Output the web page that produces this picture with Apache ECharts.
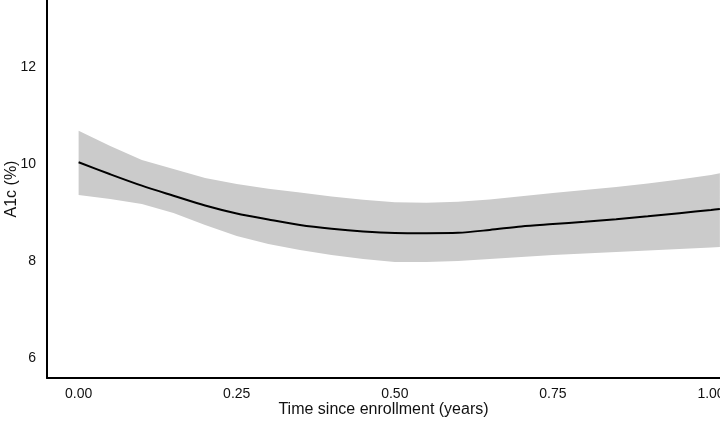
<!DOCTYPE html>
<html>
<head>
<meta charset="utf-8">
<script src="https://cdn.jsdelivr.net/npm/echarts@6/dist/echarts.min.js"></script>
<style>html,body{margin:0;padding:0;background:#fff}#c{width:720px;height:424px}</style>
</head>
<body>
<div id="c"></div>
<script>
const time = [0, 0.05, 0.10, 0.15, 0.20, 0.25, 0.30, 0.35, 0.40, 0.45, 0.50, 0.55, 0.60, 0.65, 0.70, 0.75, 0.80, 0.85, 0.90, 0.95, 1.00, 1.014];
const estimate = [10.035, 9.788, 9.553, 9.346, 9.144, 8.979, 8.856, 8.742, 8.664, 8.608, 8.577, 8.573, 8.581, 8.640, 8.713, 8.761, 8.808, 8.860, 8.920, 8.986, 9.052, 9.072];
const upper = [10.687, 10.371, 10.082, 9.897, 9.711, 9.588, 9.490, 9.410, 9.330, 9.260, 9.210, 9.200, 9.220, 9.270, 9.335, 9.400, 9.464, 9.526, 9.598, 9.680, 9.773, 9.810];
const lower = [9.361, 9.278, 9.175, 8.990, 8.742, 8.515, 8.351, 8.227, 8.124, 8.041, 7.979, 7.979, 8.000, 8.041, 8.082, 8.124, 8.155, 8.186, 8.216, 8.247, 8.278, 8.290];
const xTicks = [0, 0.25, 0.5, 0.75, 1.0];
const yTicks = [6, 8, 10, 12];

const chart = echarts.init(document.getElementById('c'), null, {renderer: 'canvas'});
const font = 'Liberation Sans, Arial, sans-serif';
const bandData = time.map((t, i) => [t, lower[i], upper[i]]);
chart.setOption({
  animation: false,
  backgroundColor: '#fff',
  grid: {left: 47, right: 0, top: 0, bottom: 46, outerBoundsMode: 'none', containLabel: false},
  xAxis: {
    type: 'value', min: -0.05, max: 1.0142,
    name: 'Time since enrollment (years)', nameLocation: 'middle', nameGap: 24, nameMoveOverlap: false,
    nameTextStyle: {fontSize: 16, color: '#111', fontFamily: font},
    axisLine: {show: true, onZero: false, lineStyle: {color: '#000', width: 2}},
    axisTick: {show: false},
    splitLine: {show: false},
    axisLabel: {customValues: xTicks, formatter: v => v.toFixed(2), fontSize: 14, color: '#111', fontFamily: font, margin: 9}
  },
  yAxis: {
    type: 'value', min: 5.588, max: 13.38,
    name: 'A1c (%)', nameLocation: 'middle', nameGap: 27, nameRotate: 90, nameMoveOverlap: false,
    nameTextStyle: {fontSize: 16, color: '#111', fontFamily: font},
    axisLine: {show: true, onZero: false, lineStyle: {color: '#000', width: 2}},
    axisTick: {show: false},
    splitLine: {show: false},
    axisLabel: {customValues: yTicks, formatter: v => String(v), fontSize: 14, color: '#111', fontFamily: font, margin: 11}
  },
  series: [
    {
      type: 'custom', silent: true, z: 1,
      data: bandData,
      encode: {x: 0, y: [1, 2]},
      renderItem: function (params, api) {
        if (params.dataIndex !== 0) return null;
        const top = [], bot = [];
        for (let i = 0; i < bandData.length; i++) {
          top.push(api.coord([bandData[i][0], bandData[i][2]]));
          bot.push(api.coord([bandData[i][0], bandData[i][1]]));
        }
        const pts = top.concat(bot.reverse());
        return {type: 'polygon', shape: {points: pts}, style: {fill: '#cbcbcb', stroke: null}};
      }
    },
    {type: 'line', z: 3, data: time.map((t, i) => [t, estimate[i]]), symbol: 'none', smooth: 0.3, lineStyle: {color: '#000', width: 2}}
  ]
});
</script>
</body>
</html>
